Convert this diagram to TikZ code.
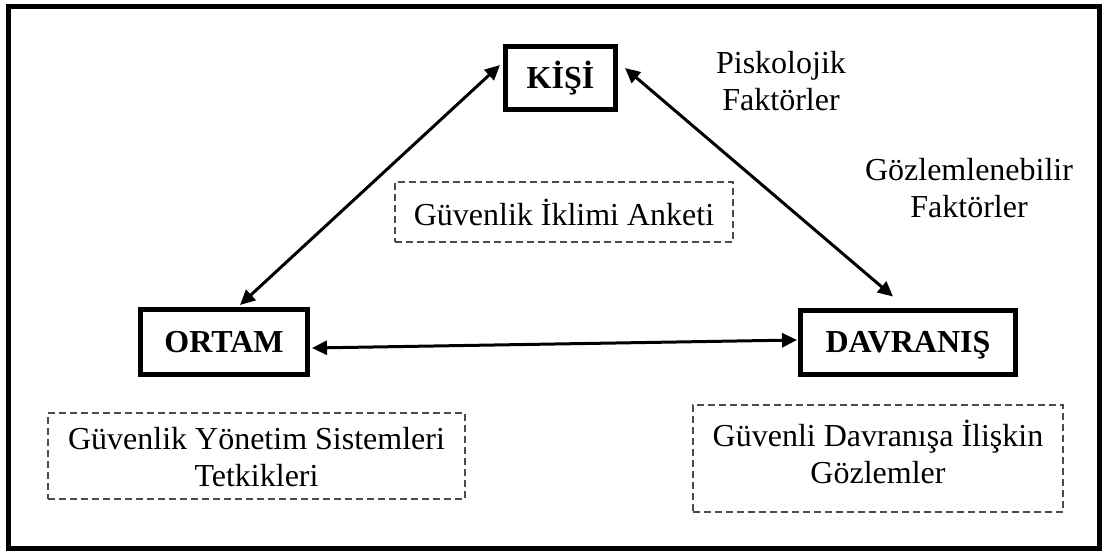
\documentclass[tikz,border=0pt]{standalone}
\usepackage{fontspec}
\setmainfont{Liberation Serif}
\usetikzlibrary{calc,arrows.meta}
\begin{document}
\begin{tikzpicture}[x=0.5pt,y=-0.5pt,
  every node/.style={font=\fontsize{16}{18.8}\selectfont, inner sep=0pt, align=center},
  mainbox/.style={draw, line width=2.5pt, text height=10.6pt, text depth=0pt, font=\fontsize{16}{18.8}\selectfont\bfseries},
  dashbox/.style={draw=black!70, line width=0.7pt, dash pattern=on 3.5pt off 2pt},
  link/.style={line width=1.5pt, {Triangle[length=7.5pt,width=7pt]}-{Triangle[length=7.5pt,width=7pt]}}
]
\useasboundingbox (0,0) rectangle (1104,553);
\draw[line width=2.5pt] (8,6) rectangle (1099,548);

\node[mainbox, minimum width=55pt, minimum height=31.5pt] (kisi) at (560.5,78) {KİŞİ};
\node[mainbox, minimum width=83.5pt, minimum height=32.5pt] (ortam) at (224,342) {ORTAM};
\node[mainbox, minimum width=107.5pt, minimum height=32pt] (davranis) at (908,342) {DAVRANIŞ};

\node[dashbox, minimum width=169pt, minimum height=30pt] (anket) at (564,212) {Güvenlik İklimi Anketi};
\node[dashbox, minimum width=208.5pt, minimum height=43pt] (tetkik) at (256.5,456) {};
\node (tetkiktxt) at (256.5,457) {Güvenlik Yönetim Sistemleri\\Tetkikleri};
\node[dashbox, minimum width=185pt, minimum height=53.5pt] (gozlem) at (878,458.5) {};
\node (gozlemtxt) at (878,452) {Güvenli Davranışa İlişkin\\Gözlemler};

\node (pisko) at (781,81) {Piskolojik\\Faktörler};
\node (gozlab) at (969,188) {Gözlemlenebilir\\Faktörler};

\draw[link] ($(kisi.west)+(-3,-13)$) -- ($(ortam.north)+(16,-2)$);
\draw[link] ($(kisi.east)+(7,-10)$) -- ($(davranis.north)+(-15,-11)$);
\draw[link] ($(ortam.east)+(2,6)$) -- ($(davranis.west)+(-1,-2)$);
\end{tikzpicture}
\end{document}
